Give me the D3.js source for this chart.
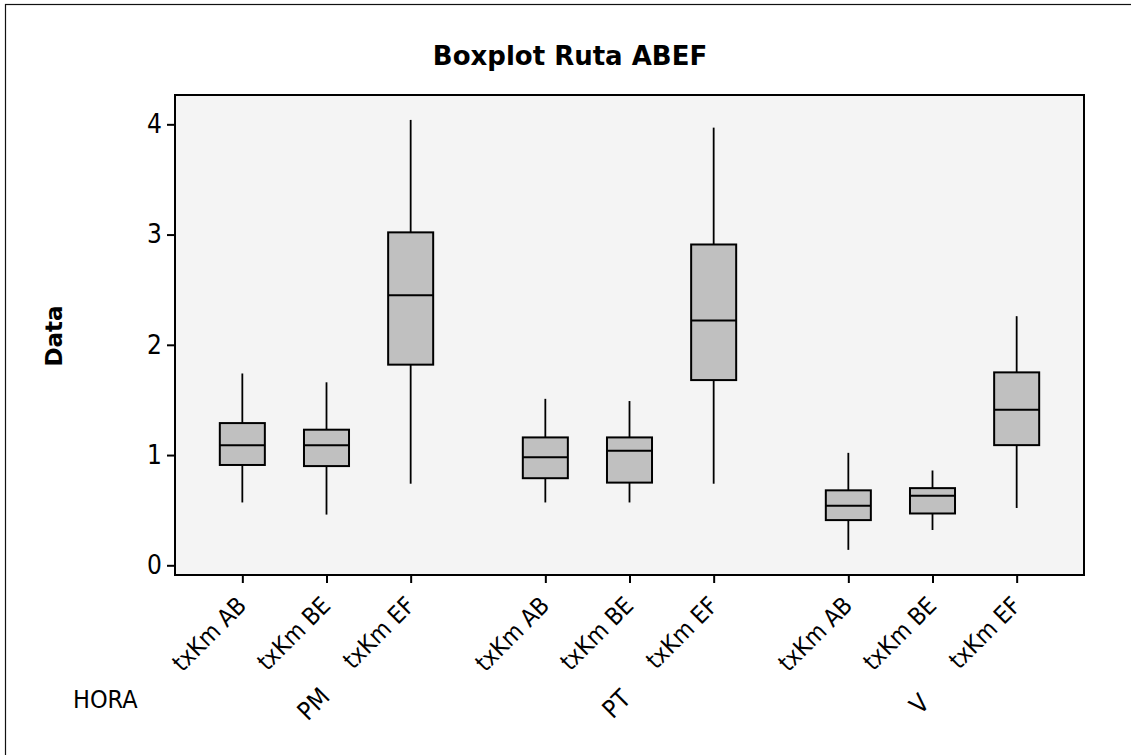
<!DOCTYPE html>
<html>
<head>
<meta charset="utf-8">
<script src="https://cdn.jsdelivr.net/npm/d3@7"></script>
<style>
  body { margin: 0; background: #fff; }
  svg { display: block; }
  .reg { font-family: "DejaVu Sans", sans-serif; font-stretch: condensed; }
  .bold { font-family: "DejaVu Sans", sans-serif; font-weight: bold; }
</style>
</head>
<body>
<svg id="chart" width="1131" height="755"></svg>
<script>
// Categories and groups
const groups = ['PM', 'PT', 'V'];
const variables = ['txKm AB', 'txKm BE', 'txKm EF'];

// Box statistics, one value per box, ordered group by group
const whiskerLow = [0.57, 0.46, 0.74, 0.57, 0.57, 0.74, 0.14, 0.32, 0.52];
const q1 = [0.91, 0.90, 1.82, 0.79, 0.75, 1.68, 0.41, 0.47, 1.09];
const median = [1.09, 1.09, 2.45, 0.98, 1.04, 2.22, 0.54, 0.63, 1.41];
const q3 = [1.29, 1.23, 3.02, 1.16, 1.16, 2.91, 0.68, 0.70, 1.75];
const whiskerHigh = [1.74, 1.66, 4.04, 1.51, 1.49, 3.97, 1.02, 0.86, 2.26];

const yTicks = [0, 1, 2, 3, 4];

const svg = d3.select('#chart');

// Plot frame
const frame = { left: 175, right: 1084, top: 95, bottom: 575 };
const groupStep = 3.6;

// Build box records
const boxes = [];
groups.forEach((g, gi) => {
    variables.forEach((v, vi) => {
        const k = gi * variables.length + vi;
        boxes.push({
            group: g, variable: v, slot: gi * groupStep + vi,
            lo: whiskerLow[k], q1: q1[k], med: median[k], q3: q3[k], hi: whiskerHigh[k]
        });
    });
});

const x = d3.scaleLinear()
    .domain([-0.8, (groups.length - 1) * groupStep + variables.length - 1 + 0.8])
    .range([frame.left, frame.right]);

const y = d3.scaleLinear()
    .domain([-0.088, 4.266])
    .range([frame.bottom, frame.top]);

// Outer border
svg.append('rect')
    .attr('x', 5.5).attr('y', 4.5)
    .attr('width', 1140).attr('height', 760)
    .attr('fill', 'none')
    .attr('stroke', '#111')
    .attr('stroke-width', 1.2);

// Title
svg.append('text')
    .attr('class', 'bold')
    .attr('x', 570).attr('y', 65)
    .attr('text-anchor', 'middle')
    .attr('font-size', '26px')
    .text('Boxplot Ruta ABEF');

// Plot background
svg.append('rect')
    .attr('x', frame.left).attr('y', frame.top)
    .attr('width', frame.right - frame.left)
    .attr('height', frame.bottom - frame.top)
    .attr('fill', '#f4f4f4');

// Y axis
const yAxis = svg.append('g')
    .attr('transform', `translate(${frame.left},0)`)
    .call(d3.axisLeft(y).tickValues(yTicks).tickSize(8).tickPadding(5).tickFormat(d3.format('d')));
yAxis.select('.domain').remove();
yAxis.selectAll('.tick line').attr('stroke', '#000').attr('stroke-width', 2);
yAxis.selectAll('.tick text')
    .attr('class', 'reg')
    .attr('font-size', '26px')
    .attr('fill', '#000');

// X axis
const xAxis = svg.append('g')
    .attr('transform', `translate(0,${frame.bottom})`)
    .call(d3.axisBottom(x)
        .tickValues(boxes.map(d => d.slot))
        .tickSize(8)
        .tickFormat((d, i) => boxes[i].variable));
xAxis.select('.domain').remove();
xAxis.selectAll('.tick line').attr('stroke', '#000').attr('stroke-width', 2);
xAxis.selectAll('.tick text')
    .attr('class', 'reg')
    .attr('font-size', '24px')
    .attr('fill', '#000')
    .attr('text-anchor', 'end')
    .attr('y', 0)
    .attr('dy', 0)
    .attr('transform', 'translate(5,32) rotate(-45)');

// Group labels
svg.selectAll('.group-label')
    .data(groups)
    .enter()
    .append('text')
    .attr('class', 'group-label reg')
    .attr('text-anchor', 'middle')
    .attr('dominant-baseline', 'central')
    .attr('font-size', '25px')
    .attr('transform', (d, i) => `translate(${x(i * groupStep + 1) - 13},704) rotate(-45)`)
    .text(d => d);

svg.append('text')
    .attr('class', 'reg')
    .attr('x', 73).attr('y', 708)
    .attr('font-size', '25px')
    .text('HORA');

// Y axis title
svg.append('text')
    .attr('class', 'bold')
    .attr('transform', 'translate(62,336) rotate(-90)')
    .attr('text-anchor', 'middle')
    .attr('font-size', '23px')
    .text('Data');

// Boxes
const boxW = 0.535 * (x(1) - x(0));
const bx = svg.append('g').attr('class', 'boxes');

const box = bx.selectAll('g')
    .data(boxes)
    .enter()
    .append('g');

box.append('line')
    .attr('x1', d => x(d.slot)).attr('x2', d => x(d.slot))
    .attr('y1', d => y(d.q3)).attr('y2', d => y(d.hi))
    .attr('stroke', '#000').attr('stroke-width', 1.8);

box.append('line')
    .attr('x1', d => x(d.slot)).attr('x2', d => x(d.slot))
    .attr('y1', d => y(d.q1)).attr('y2', d => y(d.lo))
    .attr('stroke', '#000').attr('stroke-width', 1.8);

box.append('rect')
    .attr('x', d => x(d.slot) - boxW / 2)
    .attr('y', d => y(d.q3))
    .attr('width', boxW)
    .attr('height', d => y(d.q1) - y(d.q3))
    .attr('fill', '#c0c0c0')
    .attr('stroke', '#000')
    .attr('stroke-width', 2);

box.append('line')
    .attr('x1', d => x(d.slot) - boxW / 2).attr('x2', d => x(d.slot) + boxW / 2)
    .attr('y1', d => y(d.med)).attr('y2', d => y(d.med))
    .attr('stroke', '#000').attr('stroke-width', 2);

// Plot frame border
svg.append('rect')
    .attr('x', frame.left).attr('y', frame.top)
    .attr('width', frame.right - frame.left)
    .attr('height', frame.bottom - frame.top)
    .attr('fill', 'none')
    .attr('stroke', '#000')
    .attr('stroke-width', 2);
</script>
</body>
</html>
